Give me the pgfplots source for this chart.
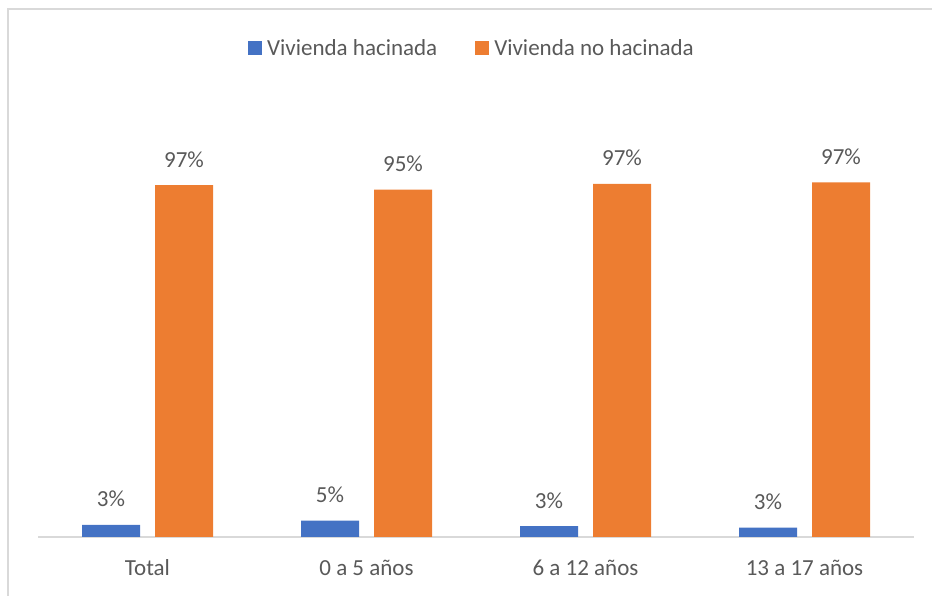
\documentclass[border=0pt]{standalone}
\usepackage{fontspec}
\setmainfont{Carlito}
\usepackage{pgfplots}
\pgfplotsset{compat=1.18}
\definecolor{cblue}{HTML}{4472C4}
\definecolor{corange}{HTML}{ED7D31}
\definecolor{ctext}{HTML}{595959}
\definecolor{cline}{HTML}{D9D9D9}
\newcommand{\lbl}{\fontsize{23}{28}\selectfont}
\begin{document}
\begin{tikzpicture}[x=1pt,y=1pt]
\path[use as bounding box] (0,0) rectangle (932,596);
\draw[cline, line width=2pt] (8.3,0) -- (8.3,587) -- (932,587);
\begin{axis}[
  at={(38pt,59pt)}, anchor=south west,
  scale only axis, width=876pt, height=364pt,
  xmin=-0.5, xmax=3.5, ymin=0, ymax=100,
  axis x line=bottom, axis y line=none,
  x axis line style={draw=cline, line width=1.3pt, -},
  xtick={0,1,2,3},
  xticklabels={Total,0 a 5 años,6 a 12 años,13 a 17 años},
  major tick length=0pt,
  ytick=\empty,
  xticklabel style={font=\lbl, text=ctext, inner sep=0pt, anchor=base, yshift=-39pt},
  ybar=15pt, bar width=58pt,
  clip=false,
  nodes near coords,
  point meta=explicit symbolic,
  every node near coord/.append style={font=\lbl, text=ctext, inner sep=0pt, anchor=base, yshift=18pt},
  legend columns=-1,
  legend style={at={(0.4943,1.344)}, anchor=center, draw=none, fill=none, inner sep=0pt, column sep=5pt, font=\lbl, text=ctext, nodes={inner sep=0pt}},
]
\addplot[fill=cblue, draw=none, legend image code/.code={\fill[cblue] (0pt,-7pt) rectangle (14pt,7pt);}]
  coordinates {(0,3.3) [3\%] (1,4.5) [5\%] (2,3.0) [3\%] (3,2.6) [3\%]};
\addplot[fill=corange, draw=none, legend image code/.code={\fill[corange] (0pt,-7pt) rectangle (14pt,7pt);}]
  coordinates {(0,96.7) [97\%] (1,95.4) [95\%] (2,97.0) [97\%] (3,97.4) [97\%]};
\legend{Vivienda hacinada\rule{33pt}{0pt}, Vivienda no hacinada}
\end{axis}
\end{tikzpicture}
\end{document}
